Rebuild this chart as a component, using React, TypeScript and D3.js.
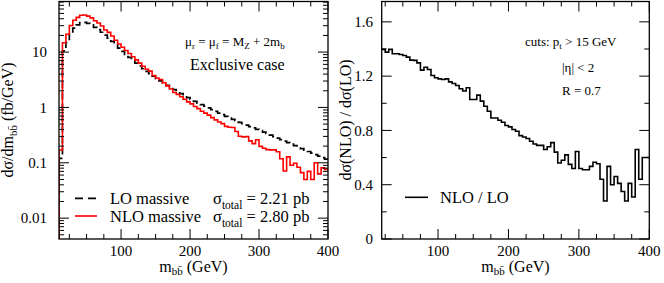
import React from 'react';
import * as d3 from 'd3';

// m_bb histograms, 5 GeV bins (lower edges)
const binWidth = 5;
const massBins = d3.range(10, 400, binWidth);
const ratioBins = d3.range(20, 400, binWidth);

// dσ/dm (fb/GeV), LO massive
const loMassive = [
    0.12, 10.5, 15, 22, 27, 31, 34, 34.5, 33, 31,
    28, 25.5, 22.8, 20.2, 17.9, 15.6, 13.6, 11.8, 10.3, 9.1,
    8.0, 7.1, 6.3, 5.6, 5.0, 4.5, 4.07, 3.67, 3.31, 3.02,
    2.75, 2.51, 2.29, 2.09, 1.93, 1.78, 1.64, 1.51, 1.40, 1.29,
    1.20, 1.12, 1.05, 0.98, 0.91, 0.85, 0.79, 0.74, 0.69, 0.645,
    0.61, 0.575, 0.537, 0.507, 0.479, 0.452, 0.427, 0.403, 0.38, 0.358,
    0.337, 0.317, 0.298, 0.28, 0.263, 0.247, 0.232, 0.218, 0.205, 0.193,
    0.181, 0.17, 0.16, 0.15, 0.141, 0.132, 0.124, 0.116
];

// dσ/dm (fb/GeV), NLO massive
const nloMassive = [
    0.17, 14.7, 21, 30.3, 37.7, 42.3, 46.4, 46.9, 44.6, 41.5,
    36.9, 33.6, 29.6, 25.1, 22.7, 19.5, 16.4, 14.0, 12.2, 10.7,
    9.44, 8.22, 7.22, 6.33, 5.54, 4.91, 4.53, 3.77, 3.40, 3.20,
    2.79, 2.45, 2.15, 1.86, 1.72, 1.56, 1.41, 1.26, 1.16, 1.04,
    0.953, 0.853, 0.790, 0.725, 0.655, 0.595, 0.545, 0.511, 0.455, 0.439,
    0.433, 0.368, 0.301, 0.294, 0.297, 0.249, 0.222, 0.260, 0.198, 0.183,
    0.173, 0.171, 0.171, 0.158, 0.118, 0.071, 0.128, 0.090, 0.098, 0.083,
    0.0665, 0.050, 0.070, 0.050, 0.100, 0.063, 0.081, 0.076
];

// NLO / LO
const nloOverLo = [
    1.397, 1.377, 1.397, 1.365, 1.365, 1.36, 1.352, 1.34, 1.318, 1.316,
    1.298, 1.244, 1.266, 1.249, 1.205, 1.188, 1.18, 1.175, 1.18, 1.158,
    1.146, 1.131, 1.107, 1.09, 1.114, 1.028, 1.028, 1.06, 1.016, 0.978,
    0.941, 0.892, 0.892, 0.875, 0.86, 0.836, 0.826, 0.807, 0.794, 0.762,
    0.752, 0.74, 0.72, 0.70, 0.69, 0.69, 0.66, 0.68, 0.71, 0.64,
    0.56, 0.58, 0.62, 0.55, 0.52, 0.645, 0.52, 0.51, 0.51, 0.535,
    0.565, 0.555, 0.44, 0.28, 0.535, 0.40, 0.46, 0.41, 0.35, 0.28,
    0.41, 0.31, 0.66, 0.44, 0.60, 0.60
];

const xMajorTicks = [100, 200, 300, 400];
const xMinorTicks = d3.range(25, 400, 25);
const logTicks = [0.01, 0.1, 1, 10];
const logTickLabels = ['0.01', '0.1', '1', '10'];
const ratioTicks = [0, 0.4, 0.8, 1.2, 1.6];
const ratioTickLabels = ['0', '0.4', '0.8', '1.2', '1.6'];
const ratioMinorTicks = [0.2, 0.6, 1.0, 1.4];

const FONT = '"Liberation Serif", "Times New Roman", serif';
const MAJOR = 10;
const MINOR = 5;

const left = { x0: 59, x1: 328, y0: 1.5, y1: 239 };
const right = { x0: 381.7, x1: 649.3, y0: 1.5, y1: 239 };

const stepPath = (bins, values, x, y, bottom) => {
    let d = `M${x(bins[0])},${bottom}`;
    bins.forEach((b, i) => {
        d += `V${y(values[i])}H${x(b + binWidth)}`;
    });
    return d;
};

// inward ticks on all four sides of a frame
const Ticks = ({ box, xs, ys }) => (
    <g stroke="#000" strokeWidth={1}>
        {xs.map(([px, len], i) => (
            <g key={'x' + i}>
                <line x1={px} x2={px} y1={box.y1} y2={box.y1 - len} />
                <line x1={px} x2={px} y1={box.y0} y2={box.y0 + len} />
            </g>
        ))}
        {ys.map(([py, len], i) => (
            <g key={'y' + i}>
                <line x1={box.x0} x2={box.x0 + len} y1={py} y2={py} />
                <line x1={box.x1} x2={box.x1 - len} y1={py} y2={py} />
            </g>
        ))}
    </g>
);

const MassLabel = ({ cx }) => (
    <text x={cx} y={271.5} textAnchor="middle" fontSize={16}>
        m<tspan fontSize={11} dy={3.5}>{'bb\u0304'}</tspan>
        <tspan dy={-3.5}> (GeV)</tspan>
    </text>
);

export default function App() {
    const xL = d3.scaleLinear().domain([10, 400]).range([left.x0, left.x1]);
    const yL = d3.scaleLog().domain([0.0042, 82]).range([left.y1, left.y0]);
    const xR = d3.scaleLinear().domain([20, 400]).range([right.x0, right.x1]);
    const yR = d3.scaleLinear().domain([0, 1.75]).range([right.y1, right.y0]);

    const logMinor = [];
    [0.001, 0.01, 0.1, 1, 10].forEach((dec) => {
        for (let k = 2; k <= 9; k++) {
            const v = k * dec;
            if (v > 0.0042 && v < 82) logMinor.push(v);
        }
    });

    const leftXs = [
        ...xMinorTicks.filter((v) => v % 100 !== 0).map((v) => [xL(v), MINOR]),
        ...xMajorTicks.map((v) => [xL(v), MAJOR])
    ];
    const leftYs = [
        ...logMinor.map((v) => [yL(v), MINOR]),
        ...logTicks.map((v) => [yL(v), MAJOR])
    ];
    const rightXs = [
        ...xMinorTicks.filter((v) => v % 100 !== 0).map((v) => [xR(v), MINOR]),
        ...xMajorTicks.map((v) => [xR(v), MAJOR])
    ];
    const rightYs = [
        ...ratioMinorTicks.map((v) => [yR(v), MINOR]),
        ...ratioTicks.map((v) => [yR(v), MAJOR])
    ];

    return (
        <svg
            width={664}
            height={283}
            style={{ position: 'absolute', left: 0, top: 0, background: '#fff' }}
            fontFamily={FONT}
        >
            <defs>
                <clipPath id="clipL">
                    <rect x={left.x0} y={left.y0} width={left.x1 - left.x0} height={left.y1 - left.y0} />
                </clipPath>
                <clipPath id="clipR">
                    <rect x={right.x0} y={right.y0} width={right.x1 - right.x0} height={right.y1 - right.y0} />
                </clipPath>
            </defs>

            {/* left panel */}
            <g clipPath="url(#clipL)" fill="none">
                <path d={stepPath(massBins, loMassive, xL, yL, left.y1)}
                    stroke="#000" strokeWidth={1.7} strokeDasharray="7,4" />
                <path d={stepPath(massBins, nloMassive, xL, yL, left.y1)}
                    stroke="#ff0000" strokeWidth={1.6} />
            </g>
            <Ticks box={left} xs={leftXs} ys={leftYs} />
            <rect x={left.x0} y={left.y0} width={left.x1 - left.x0} height={left.y1 - left.y0}
                fill="none" stroke="#000" strokeWidth={1.3} />
            {xMajorTicks.map((v) => (
                <text key={v} x={xL(v)} y={255.5} textAnchor="middle" fontSize={15}>{v}</text>
            ))}
            {logTicks.map((v, i) => (
                <text key={v} x={47} y={yL(v)} dy="0.35em" textAnchor="end" fontSize={15}>
                    {logTickLabels[i]}
                </text>
            ))}
            <MassLabel cx={193.5} />
            <text transform="translate(13,120) rotate(-90)" textAnchor="middle" fontSize={16}>
                dσ/dm<tspan fontSize={11} dy={4}>{'bb\u0304'}</tspan>
                <tspan dy={-4}> (fb/GeV)</tspan>
            </text>

            <text x={185} y={46} fontSize={13}>
                μ<tspan fontSize={9} dy={3}>r</tspan>
                <tspan dy={-3}> = μ</tspan><tspan fontSize={9} dy={3}>f</tspan>
                <tspan dy={-3}> = M</tspan><tspan fontSize={9} dy={3}>Z</tspan>
                <tspan dy={-3}> + 2m</tspan><tspan fontSize={9} dy={3}>b</tspan>
            </text>
            <text x={190} y={70} fontSize={16}>Exclusive case</text>

            <line x1={75} x2={97} y1={198.3} y2={198.3} stroke="#000" strokeWidth={1.7} strokeDasharray="8,5" />
            <text x={110} y={203.5} fontSize={16.5}>LO massive</text>
            <text x={213} y={203.5} fontSize={16.5}>
                σ<tspan fontSize={11.5} dy={5}>total</tspan>
                <tspan dy={-5}> = 2.21 pb</tspan>
            </text>
            <line x1={75} x2={97} y1={216} y2={216} stroke="#ff0000" strokeWidth={1.6} />
            <text x={110} y={221.5} fontSize={16.5}>NLO massive</text>
            <text x={213} y={221.5} fontSize={16.5}>
                σ<tspan fontSize={11.5} dy={5}>total</tspan>
                <tspan dy={-5}> = 2.80 pb</tspan>
            </text>

            {/* right panel */}
            <g clipPath="url(#clipR)" fill="none">
                <path d={stepPath(ratioBins, nloOverLo, xR, yR, yR(nloOverLo[0]))}
                    stroke="#000" strokeWidth={1.6} />
            </g>
            <Ticks box={right} xs={rightXs} ys={rightYs} />
            <rect x={right.x0} y={right.y0} width={right.x1 - right.x0} height={right.y1 - right.y0}
                fill="none" stroke="#000" strokeWidth={1.3} />
            {xMajorTicks.map((v) => (
                <text key={v} x={xR(v)} y={255.5} textAnchor="middle" fontSize={15}>{v}</text>
            ))}
            {ratioTicks.map((v, i) => (
                <text key={v} x={373} y={yR(v)} dy="0.35em" textAnchor="end" fontSize={15}>
                    {ratioTickLabels[i]}
                </text>
            ))}
            <MassLabel cx={515.5} />
            <text transform="translate(351,120) rotate(-90)" textAnchor="middle" fontSize={16}>
                dσ(NLO) / dσ(LO)
            </text>

            <text x={525} y={46} fontSize={13}>
                cuts:  p<tspan fontSize={9} dy={3}>t</tspan>
                <tspan dy={-3}> &gt; 15 GeV</tspan>
            </text>
            <text x={562} y={72} fontSize={13}>|η| &lt; 2</text>
            <text x={562} y={95} fontSize={13}>R = 0.7</text>

            <line x1={405} x2={428} y1={197.3} y2={197.3} stroke="#000" strokeWidth={1.6} />
            <text x={440} y={203} fontSize={16.5}>NLO / LO</text>
        </svg>
    );
}
